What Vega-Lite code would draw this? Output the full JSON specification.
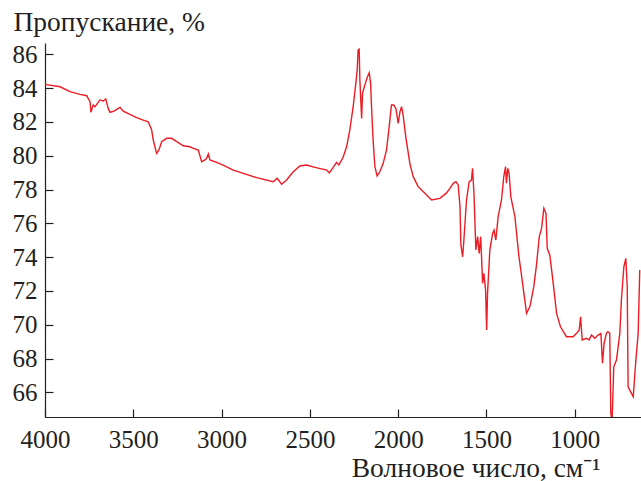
{
  "$schema": "https://vega.github.io/schema/vega-lite/v6.json",
  "width": 596,
  "height": 374,
  "autosize": {"type": "none"},
  "padding": {"left": 45, "top": 43, "right": 0, "bottom": 64},
  "background": "white",
  "config": {
    "view": {"stroke": null},
    "font": "Liberation Serif",
    "axis": {
      "domainColor": "#231f20",
      "tickColor": "#231f20",
      "labelColor": "#231f20",
      "titleColor": "#231f20",
      "labelFont": "Liberation Serif",
      "titleFont": "Liberation Serif",
      "labelFontSize": 25,
      "titleFontSize": 27.5,
      "titleFontWeight": "normal",
      "grid": false,
      "domainWidth": 1.2,
      "tickWidth": 1.2
    }
  },
  "data": {
    "values": [
      {"w": 4000, "t": 84.22}, {"w": 3915, "t": 84.08}, {"w": 3858, "t": 83.79}, {"w": 3802, "t": 83.63},
      {"w": 3764, "t": 83.55}, {"w": 3745, "t": 83.2}, {"w": 3740, "t": 82.57}, {"w": 3727, "t": 83.0},
      {"w": 3717, "t": 82.9}, {"w": 3689, "t": 83.3}, {"w": 3670, "t": 83.24}, {"w": 3656, "t": 83.36},
      {"w": 3642, "t": 82.8}, {"w": 3632, "t": 82.57}, {"w": 3609, "t": 82.64}, {"w": 3585, "t": 82.8},
      {"w": 3575, "t": 82.86}, {"w": 3557, "t": 82.64}, {"w": 3519, "t": 82.45}, {"w": 3481, "t": 82.25},
      {"w": 3444, "t": 82.11}, {"w": 3415, "t": 82.01}, {"w": 3396, "t": 81.52}, {"w": 3387, "t": 80.93},
      {"w": 3368, "t": 80.14}, {"w": 3355, "t": 80.34}, {"w": 3339, "t": 80.83}, {"w": 3311, "t": 81.03},
      {"w": 3283, "t": 81.03}, {"w": 3254, "t": 80.83}, {"w": 3217, "t": 80.59}, {"w": 3179, "t": 80.53},
      {"w": 3160, "t": 80.44}, {"w": 3132, "t": 80.34}, {"w": 3113, "t": 79.64}, {"w": 3094, "t": 79.75},
      {"w": 3085, "t": 79.85}, {"w": 3075, "t": 80.1}, {"w": 3066, "t": 79.75}, {"w": 3028, "t": 79.61},
      {"w": 2991, "t": 79.45}, {"w": 2934, "t": 79.15}, {"w": 2877, "t": 78.96}, {"w": 2801, "t": 78.7},
      {"w": 2708, "t": 78.46}, {"w": 2685, "t": 78.66}, {"w": 2660, "t": 78.31}, {"w": 2632, "t": 78.56},
      {"w": 2594, "t": 79.05}, {"w": 2557, "t": 79.39}, {"w": 2519, "t": 79.45}, {"w": 2471, "t": 79.31},
      {"w": 2405, "t": 79.15}, {"w": 2390, "t": 78.99}, {"w": 2368, "t": 79.31}, {"w": 2349, "t": 79.61},
      {"w": 2336, "t": 79.45}, {"w": 2320, "t": 79.75}, {"w": 2311, "t": 79.94}, {"w": 2292, "t": 80.53},
      {"w": 2274, "t": 81.52}, {"w": 2255, "t": 82.9}, {"w": 2240, "t": 84.28}, {"w": 2232, "t": 85.07},
      {"w": 2227, "t": 86.25}, {"w": 2221, "t": 86.3}, {"w": 2217, "t": 84.48}, {"w": 2207, "t": 82.21},
      {"w": 2202, "t": 83.69}, {"w": 2189, "t": 84.18}, {"w": 2174, "t": 84.67}, {"w": 2164, "t": 84.91},
      {"w": 2156, "t": 84.28}, {"w": 2151, "t": 82.9}, {"w": 2142, "t": 80.93}, {"w": 2132, "t": 79.35},
      {"w": 2119, "t": 78.8}, {"w": 2104, "t": 79.05}, {"w": 2085, "t": 79.55}, {"w": 2066, "t": 80.34},
      {"w": 2051, "t": 81.72}, {"w": 2038, "t": 83.0}, {"w": 2025, "t": 83.0}, {"w": 2013, "t": 82.8},
      {"w": 2000, "t": 81.92}, {"w": 1990, "t": 82.6}, {"w": 1981, "t": 82.9}, {"w": 1972, "t": 82.41},
      {"w": 1957, "t": 81.12}, {"w": 1934, "t": 79.55}, {"w": 1915, "t": 78.76}, {"w": 1887, "t": 78.17},
      {"w": 1849, "t": 77.78}, {"w": 1811, "t": 77.38}, {"w": 1764, "t": 77.48}, {"w": 1726, "t": 77.8},
      {"w": 1707, "t": 78.07}, {"w": 1688, "t": 78.37}, {"w": 1673, "t": 78.46}, {"w": 1660, "t": 78.27},
      {"w": 1650, "t": 76.98}, {"w": 1645, "t": 74.72}, {"w": 1635, "t": 74.02}, {"w": 1628, "t": 75.01},
      {"w": 1613, "t": 77.38}, {"w": 1598, "t": 78.46}, {"w": 1585, "t": 78.56}, {"w": 1579, "t": 79.25},
      {"w": 1571, "t": 77.78}, {"w": 1560, "t": 74.42}, {"w": 1550, "t": 75.21}, {"w": 1541, "t": 74.22},
      {"w": 1533, "t": 75.21}, {"w": 1528, "t": 74.02}, {"w": 1522, "t": 72.45}, {"w": 1515, "t": 73.04},
      {"w": 1505, "t": 72.05}, {"w": 1499, "t": 69.69}, {"w": 1494, "t": 71.86}, {"w": 1481, "t": 74.42},
      {"w": 1465, "t": 75.41}, {"w": 1457, "t": 75.6}, {"w": 1447, "t": 75.01}, {"w": 1434, "t": 76.39},
      {"w": 1415, "t": 77.38}, {"w": 1402, "t": 78.76}, {"w": 1392, "t": 79.35}, {"w": 1387, "t": 78.37},
      {"w": 1379, "t": 79.25}, {"w": 1372, "t": 78.96}, {"w": 1362, "t": 77.57}, {"w": 1339, "t": 76.39},
      {"w": 1316, "t": 74.02}, {"w": 1298, "t": 72.64}, {"w": 1273, "t": 70.67}, {"w": 1254, "t": 71.07},
      {"w": 1232, "t": 72.25}, {"w": 1217, "t": 73.53}, {"w": 1201, "t": 75.21}, {"w": 1188, "t": 75.7},
      {"w": 1175, "t": 76.89}, {"w": 1163, "t": 76.59}, {"w": 1156, "t": 74.52}, {"w": 1141, "t": 74.1},
      {"w": 1122, "t": 72.45}, {"w": 1103, "t": 70.67}, {"w": 1081, "t": 69.88}, {"w": 1047, "t": 69.29},
      {"w": 1009, "t": 69.29}, {"w": 990, "t": 69.49}, {"w": 975, "t": 69.69}, {"w": 967, "t": 70.47},
      {"w": 958, "t": 69.1}, {"w": 934, "t": 69.2}, {"w": 919, "t": 69.1}, {"w": 905, "t": 69.39},
      {"w": 887, "t": 69.2}, {"w": 868, "t": 69.39}, {"w": 852, "t": 69.49}, {"w": 843, "t": 67.72},
      {"w": 834, "t": 68.9}, {"w": 821, "t": 69.49}, {"w": 812, "t": 69.59}, {"w": 802, "t": 69.49},
      {"w": 796, "t": 64.76}, {"w": 789, "t": 64.3}, {"w": 779, "t": 67.51}, {"w": 764, "t": 67.91},
      {"w": 745, "t": 69.49}, {"w": 736, "t": 71.46}, {"w": 722, "t": 73.43}, {"w": 711, "t": 73.93},
      {"w": 703, "t": 72.25}, {"w": 698, "t": 66.33}, {"w": 679, "t": 65.94}, {"w": 669, "t": 65.74},
      {"w": 654, "t": 67.91}, {"w": 641, "t": 69.49}, {"w": 632, "t": 73.24}
    ]
  },
  "mark": {"type": "line", "color": "#ec1c24", "strokeWidth": 1.4, "clip": true},
  "encoding": {
    "x": {
      "field": "w",
      "type": "quantitative",
      "scale": {"domain": [4000, 625], "nice": false, "zero": false},
      "axis": {
        "values": [4000, 3500, 3000, 2500, 2000, 1500, 1000],
        "format": "d",
        "labelFont": "Liberation Serif",
        "tickSize": -8,
        "labelPadding": 18,
        "labelFlush": false,
        "labelOverlap": false,
        "title": "Волновое число, см⁻¹",
        "titleAlign": "right",
        "titleAnchor": null,
        "titleX": 555,
        "titleY": 59,
        "titleBaseline": "alphabetic"
      }
    },
    "y": {
      "field": "t",
      "type": "quantitative",
      "scale": {"domain": [64.54, 86.67], "nice": false, "zero": false},
      "axis": {
        "values": [66, 68, 70, 72, 74, 76, 78, 80, 82, 84, 86],
        "format": "d",
        "labelFont": "Liberation Serif",
        "tickSize": -8,
        "labelPadding": 16,
        "labelOverlap": false,
        "title": "Пропускание, %",
        "titleAngle": 0,
        "titleAlign": "left",
        "titleAnchor": null,
        "titleX": -32,
        "titleY": -13,
        "titleBaseline": "alphabetic"
      }
    }
  }
}
